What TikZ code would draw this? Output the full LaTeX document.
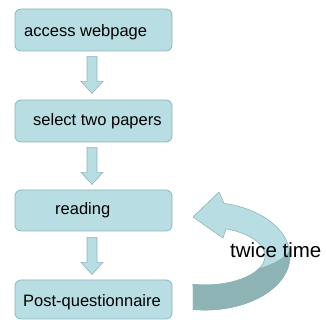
\documentclass[tikz,border=0pt]{standalone}
\usepackage{fontspec}
\setmainfont{Liberation Sans}
\usetikzlibrary{calc}
\definecolor{boxfill}{HTML}{B8DDE2}
\definecolor{boxline}{HTML}{8FB5BA}
\definecolor{bandback}{HTML}{8DB3B5}
\tikzset{
  stepbox/.style={draw=boxline, fill=boxfill, line width=0.8pt, rounded corners=6pt,
    minimum width=157pt, inner sep=0pt},
  steptext/.style={anchor=base west, inner sep=0pt, font=\fontsize{16.5}{18}\selectfont},
  looptext/.style={anchor=base west, inner sep=0pt, font=\fontsize{20.5}{24}\selectfont},
  pics/blockdown/.style={code={
    \draw[boxline, fill=boxfill, line width=0.6pt]
      (-5,0) -- (-5,-25) -- (-11,-25) -- (0,-37) -- (11,-25) -- (5,-25) -- (5,0) -- cycle;}}
}
\begin{document}
\begin{tikzpicture}[x=1pt,y=1pt]
\useasboundingbox (0,0) rectangle (326,320);

% process steps
\node[stepbox, minimum height=42pt] (b1) at (93.5,290) {};
\node[stepbox, minimum height=42pt] (b2) at (93.5,199) {};
\node[stepbox, minimum height=41pt] (b3) at (93.5,109.5) {};
\node[stepbox, minimum height=39pt] (b4) at (93.5,20.5) {};

\node[steptext] (t1) at (24,283.5) {access webpage};
\node[steptext] (t2) at (33,194) {select two papers};
\node[steptext] (t3) at (55,105) {reading};
\node[steptext] (t4) at (23,13.5) {Post-questionnaire};

% block arrows between the steps
\pic at ($(b1.south)+(-1.5,-5)$) {blockdown};
\pic at ($(b2.south)+(-1.5,-5)$) {blockdown};
\pic at ($(b3.south)+(-1.5,-6)$) {blockdown};

% curved return arrow from the questionnaire back to reading
\coordinate (C) at (205,64);
\path[draw=boxline, fill=boxfill, line width=0.6pt]
  ($(C)+(-101.5:60 and 29)$)
  arc[start angle=-101.5, end angle=69.5, x radius=60pt, y radius=29pt]
  -- (223,82) -- (193,103) -- (219,128)
  -- ($(C)+(77:85 and 54)$)
  arc[start angle=77, end angle=-98, x radius=85pt, y radius=54pt]
  -- cycle;
% darker underside of the ribbon
\path[draw=boxline, fill=bandback, line width=0.6pt]
  ($(C)+(5:85 and 54)$)
  arc[start angle=5, end angle=-98, x radius=85pt, y radius=54pt]
  -- ($(C)+(-101.5:60 and 29)$)
  arc[start angle=-101.5, end angle=-25, x radius=60pt, y radius=29pt]
  .. controls (270,54) and (284,61) .. cycle;

\node[looptext] (loop) at (230,62) {twice time};
\end{tikzpicture}
\end{document}
